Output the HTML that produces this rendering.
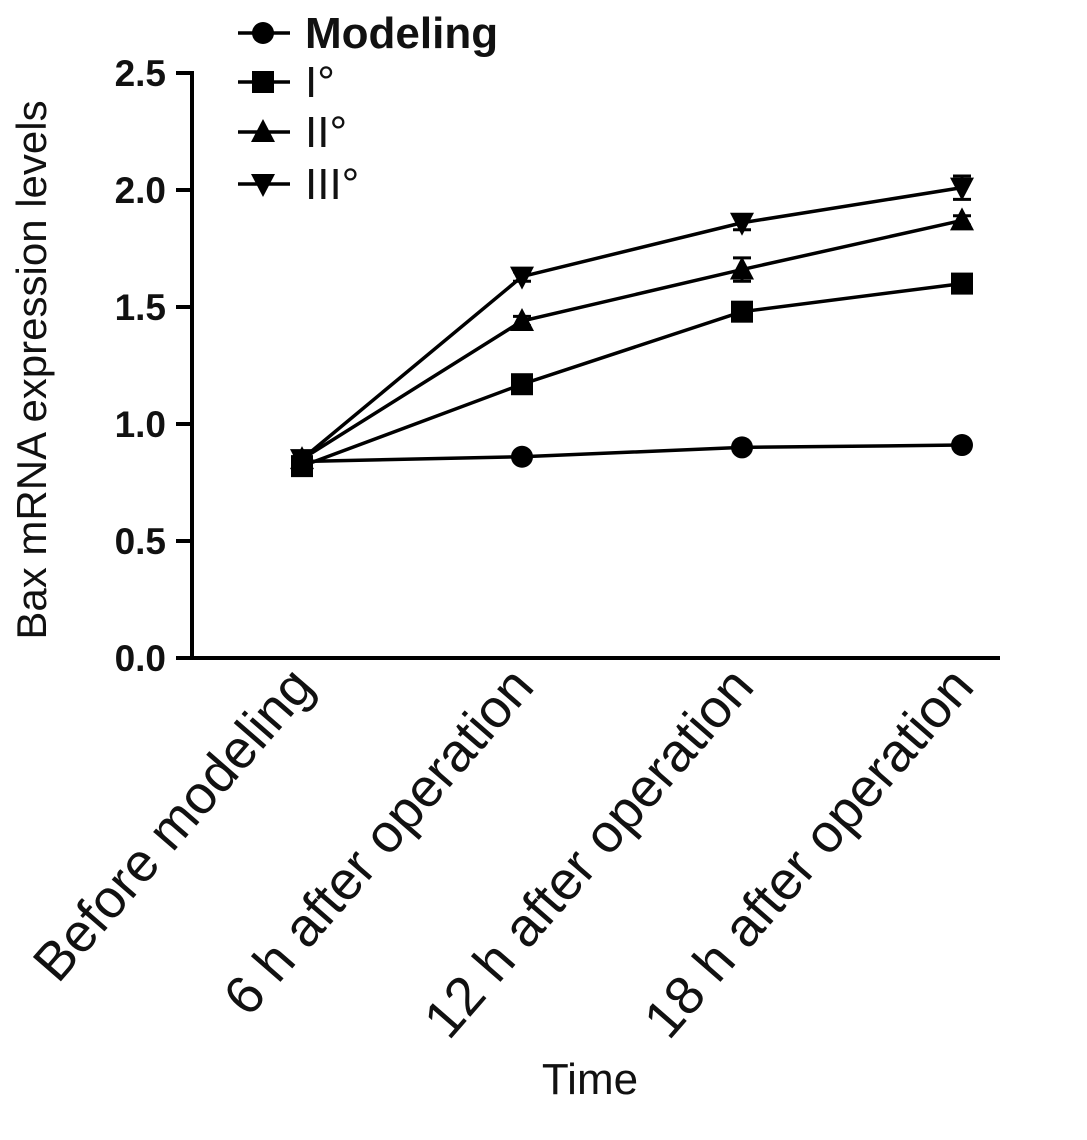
<!DOCTYPE html>
<html><head><meta charset="utf-8"><style>
html,body{margin:0;padding:0;background:#fff}
svg text{font-family:"Liberation Sans",Arial,sans-serif;fill:#111}
</style></head><body>
<svg id="chart" width="1087" height="1135" viewBox="0 0 1087 1135">
<g id="axes"></g>
<g id="series"></g>
<g id="legend"></g>
<text transform="translate(46,370) rotate(-90)" text-anchor="middle" font-size="42">Bax mRNA expression levels</text>
<text x="590" y="1094" text-anchor="middle" font-size="44">Time</text>
</svg>
<script>
const categories=["Before modeling","6 h after operation","12 h after operation","18 h after operation"];
const yTicks=[0.0,0.5,1.0,1.5,2.0,2.5];
const seriesNames=["Modeling","I°","II°","III°"];
const modeling=[0.84,0.86,0.90,0.91];
const grade1=[0.82,1.17,1.48,1.60];
const grade2=[0.85,1.44,1.66,1.87];
const grade3=[0.85,1.63,1.86,2.01];
const grade2Err=[0,0.02,0.05,0.02];
const grade3Err=[0,0.02,0.03,0.05];

const NS="http://www.w3.org/2000/svg";
const X0=192,X1=1000,Y0=658,Ytop=73;
function xs(i){return 302+i*220;}
function ys(v){return Y0-(v/2.5)*(Y0-Ytop);}
function mk(tag,attrs,parent){const e=document.createElementNS(NS,tag);for(const k in attrs)e.setAttribute(k,attrs[k]);parent.appendChild(e);return e;}
const axes=document.getElementById('axes'),ser=document.getElementById('series'),leg=document.getElementById('legend');

let yl=mk('line',{x1:X0,y1:Ytop-2,x2:X0,y2:Y0+2,stroke:'#000','stroke-width':4},axes);


let xl=mk('line',{x1:X0-2,y1:Y0,x2:X1,y2:Y0,stroke:'#000','stroke-width':4},axes);


yTicks.forEach(v=>{
  const t=mk('line',{x1:X0-16,y1:ys(v),x2:X0,y2:ys(v),stroke:'#000','stroke-width':4},axes);
  
  
  const l=mk('text',{x:X0-26,y:ys(v)+13,'text-anchor':'end','font-size':37,'font-weight':'bold'},axes);
  l.textContent=v.toFixed(1);
  
  
});
categories.forEach((c,i)=>{
  const l=mk('text',{transform:`translate(${xs(i)+14},${Y0+30}) rotate(-49)`,'text-anchor':'end','font-size':54},axes);
  l.textContent=c;
  
  
});

function marker(shape,x,y,g){
  let e;
  if(shape==='circle')e=mk('circle',{cx:x,cy:y,r:11,fill:'#000'},g);
  else if(shape==='square')e=mk('rect',{x:x-11,y:y-11,width:22,height:22,fill:'#000'},g);
  else if(shape==='up')e=mk('polygon',{points:`${x},${y-13} ${x-12},${y+10} ${x+12},${y+10}`,fill:'#000'},g);
  else e=mk('polygon',{points:`${x},${y+13} ${x-12},${y-10} ${x+12},${y-10}`,fill:'#000'},g);
  return e;
}
const all=[[modeling,'circle',null],[grade1,'square',null],[grade2,'up',grade2Err],[grade3,'down',grade3Err]];
all.forEach(([vals,shape,err],si)=>{
  const g=mk('g',{},ser);
  
  
  const p=mk('polyline',{points:vals.map((v,i)=>xs(i)+','+ys(v)).join(' '),fill:'none',stroke:'#000','stroke-width':3.5},g);
  
  
  vals.forEach((v,i)=>{
    if(err&&err[i]>0){
      const e=mk('path',{d:`M${xs(i)},${ys(v+err[i])}V${ys(v-err[i])}M${xs(i)-9},${ys(v+err[i])}H${xs(i)+9}M${xs(i)-9},${ys(v-err[i])}H${xs(i)+9}`,stroke:'#000','stroke-width':3,fill:'none'},g);
      
      
    }
    const m=marker(shape,xs(i),ys(v),g);
    
    
  });
});
const legY=[33,82,132,184];
seriesNames.forEach((n,i)=>{
  const g=mk('g',{},leg);
  
  
  mk('line',{x1:238,y1:legY[i],x2:290,y2:legY[i],stroke:'#000','stroke-width':3.5},g);
  marker(all[i][1],263,legY[i],g);
  const t=mk('text',{x:305,y:legY[i]+15,'font-size':44,'font-weight':i===0?'bold':'normal'},g);
  t.textContent=n;
});
</script>
</body></html>
